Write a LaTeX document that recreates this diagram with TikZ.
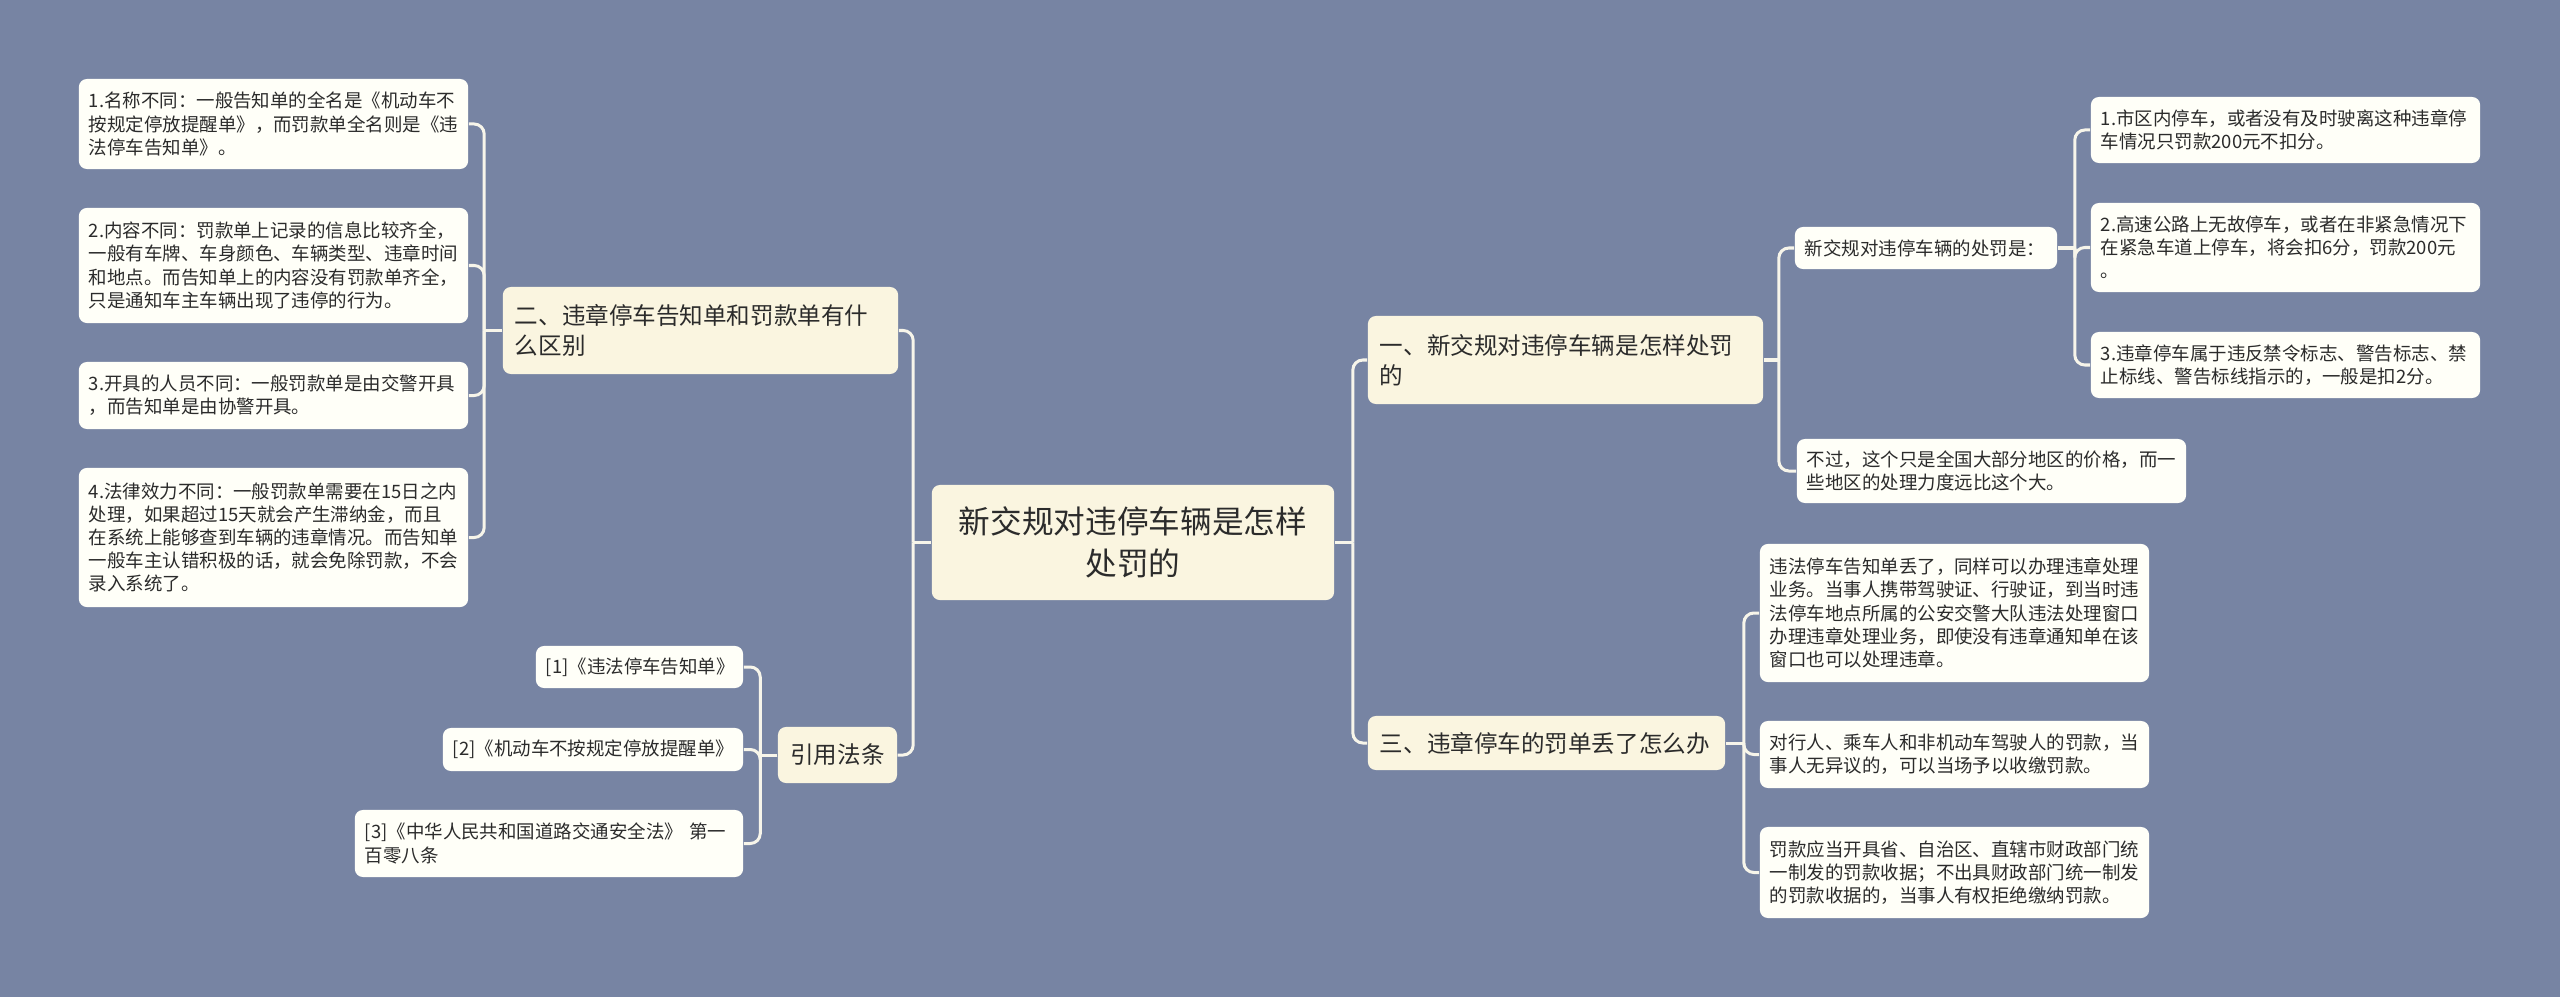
\documentclass[tikz,border=0pt]{standalone}
\usepackage{fontspec}
\setmainfont{Noto Sans CJK SC}
\definecolor{sea}{HTML}{7784A3}
\definecolor{cream}{HTML}{FAF5E0}
\definecolor{paper}{HTML}{FFFFF8}
\definecolor{wire}{HTML}{F7F5EA}
\definecolor{ink}{HTML}{2B2B2B}
\newcommand{\leafsize}{\fontsize{5.25pt}{6.6pt}\selectfont}
\newcommand{\topicsize}{\fontsize{6.7pt}{8.5pt}\selectfont}
\newcommand{\rootsize}{\fontsize{9pt}{11.9pt}\selectfont}

\begin{document}
\begin{tikzpicture}[x=0.01cm,y=-0.01cm,
  leaf/.style={fill=paper,rounded corners=0.08cm,text=ink,font=\leafsize,align=left,inner xsep=0.1cm,inner ysep=0pt},
  topic/.style={fill=cream,rounded corners=0.08cm,text=ink,font=\topicsize,align=left,inner xsep=0.12cm,inner ysep=0pt},
  link/.style={draw=wire,line width=0.03cm}]
\fill[sea] (0,0) rectangle (2560,997);
\useasboundingbox (0,0) rectangle (2560,997);

% centre
\node[fill=cream,rounded corners=0.08cm,text=ink,font=\rootsize,align=center,minimum width=4.02cm,minimum height=1.15cm] (root) at (1133,542.5) {新交规对违停车辆是怎样\\处罚的};

% left side
\node[topic,text width=3.71cm,minimum height=0.87cm] (b2) at (700.5,330.5) {二、违章停车告知单和罚款单有什\\么区别};
\node[leaf,text width=3.69cm,minimum height=0.90cm] (n1) at (273.5,124) {1.名称不同：一般告知单的全名是《机动车不\\按规定停放提醒单》，而罚款单全名则是《违\\法停车告知单》。};
\node[leaf,text width=3.69cm,minimum height=1.15cm] (n2) at (273.5,265.5) {2.内容不同：罚款单上记录的信息比较齐全，\\一般有车牌、车身颜色、车辆类型、违章时间\\和地点。而告知单上的内容没有罚款单齐全，\\只是通知车主车辆出现了违停的行为。};
\node[leaf,text width=3.69cm,minimum height=0.67cm] (n3) at (273.5,395.5) {3.开具的人员不同：一般罚款单是由交警开具\\，而告知单是由协警开具。};
\node[leaf,text width=3.69cm,minimum height=1.39cm] (n4) at (273.5,537.5) {4.法律效力不同：一般罚款单需要在15日之内\\处理，如果超过15天就会产生滞纳金，而且\\在系统上能够查到车辆的违章情况。而告知单\\一般车主认错积极的话，就会免除罚款，不会\\录入系统了。};

\node[topic,align=center,minimum width=1.19cm,minimum height=0.56cm] (ref) at (837.5,755) {引用法条};
\node[leaf,text width=1.87cm,minimum height=0.42cm] (r1) at (639.5,667) {[1]《违法停车告知单》};
\node[leaf,text width=2.80cm,minimum height=0.43cm] (r2) at (593,749.5) {[2]《机动车不按规定停放提醒单》};
\node[leaf,text width=3.68cm,minimum height=0.67cm] (r3) at (549,843.5) {[3]《中华人民共和国道路交通安全法》 第一\\百零八条};

% right side
\node[topic,text width=3.71cm,minimum height=0.88cm] (b1) at (1565.5,360) {一、新交规对违停车辆是怎样处罚\\的};
\node[leaf,text width=2.42cm,minimum height=0.42cm] (p) at (1926,248) {新交规对违停车辆的处罚是：};
\node[leaf,text width=3.69cm,minimum height=0.66cm] (p1) at (2285.5,130) {1.市区内停车，或者没有及时驶离这种违章停\\车情况只罚款200元不扣分。};
\node[leaf,text width=3.69cm,minimum height=0.89cm] (p2) at (2285.5,247.5) {2.高速公路上无故停车，或者在非紧急情况下\\在紧急车道上停车，将会扣6分，罚款200元\\。};
\node[leaf,text width=3.69cm,minimum height=0.66cm] (p3) at (2285.5,365) {3.违章停车属于违反禁令标志、警告标志、禁\\止标线、警告标线指示的，一般是扣2分。};
\node[leaf,text width=3.69cm,minimum height=0.64cm] (note) at (1991.5,471) {不过，这个只是全国大部分地区的价格，而一\\些地区的处理力度远比这个大。};

\node[topic,text width=3.33cm,minimum height=0.54cm] (b3) at (1546.5,743) {三、违章停车的罚单丢了怎么办};
\node[leaf,text width=3.69cm,minimum height=1.38cm] (q1) at (1954.5,613) {违法停车告知单丢了，同样可以办理违章处理\\业务。当事人携带驾驶证、行驶证，到当时违\\法停车地点所属的公安交警大队违法处理窗口\\办理违章处理业务，即使没有违章通知单在该\\窗口也可以处理违章。};
\node[leaf,text width=3.69cm,minimum height=0.67cm] (q2) at (1954.5,754.5) {对行人、乘车人和非机动车驾驶人的罚款，当\\事人无异议的，可以当场予以收缴罚款。};
\node[leaf,text width=3.69cm,minimum height=0.91cm] (q3) at (1954.5,872.5) {罚款应当开具省、自治区、直辖市财政部门统\\一制发的罚款收据；不出具财政部门统一制发\\的罚款收据的，当事人有权拒绝缴纳罚款。};

% connectors
\foreach \c in {b2,ref} {
  \draw[link] (root.west) -- ++(-18,0);
  \draw[link,rounded corners=0.1cm] (root.west) ++(-18,0) |- (\c.east);
}
\foreach \c in {b1,b3} {
  \draw[link] (root.east) -- ++(18,0);
  \draw[link,rounded corners=0.1cm] (root.east) ++(18,0) |- (\c.west);
}
\foreach \c in {n1,n2,n3,n4} {
  \draw[link] (b2.west) -- ++(-18,0);
  \draw[link,rounded corners=0.1cm] (b2.west) ++(-18,0) |- (\c.east);
}
\foreach \c in {r1,r2,r3} {
  \draw[link] (ref.west) -- ++(-17,0);
  \draw[link,rounded corners=0.1cm] (ref.west) ++(-17,0) |- (\c.east);
}
\foreach \c in {p,note} {
  \draw[link] (b1.east) -- ++(15,0);
  \draw[link,rounded corners=0.1cm] (b1.east) ++(15,0) |- (\c.west);
}
\foreach \c in {p1,p2,p3} {
  \draw[link] (p.east) -- ++(17,0);
  \draw[link,rounded corners=0.1cm] (p.east) ++(17,0) |- (\c.west);
}
\foreach \c in {q1,q2,q3} {
  \draw[link] (b3.east) -- ++(18,0);
  \draw[link,rounded corners=0.1cm] (b3.east) ++(18,0) |- (\c.west);
}
\end{tikzpicture}
\end{document}
